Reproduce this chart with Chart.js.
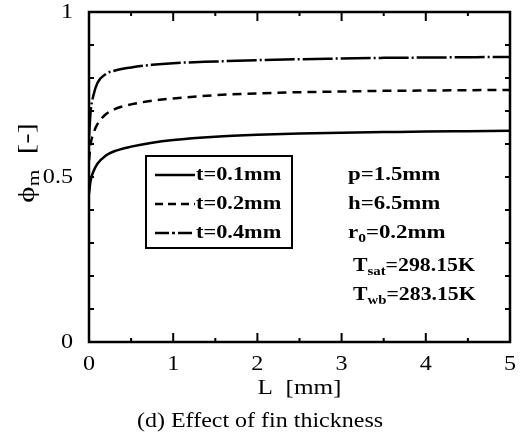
<!DOCTYPE html>
<html>
<head>
<meta charset="utf-8">
<script src="https://cdn.jsdelivr.net/npm/chart.js@4.4.1/dist/chart.umd.min.js"></script>
<style>
  html, body { margin: 0; padding: 0; background: #fff; }
  #wrap { width: 528px; height: 436px; }
</style>
</head>
<body>
<div id="wrap"><canvas id="fin" width="528" height="436"></canvas></div>
<script>
// --- DATA ---
const finLength = [0, 0.02, 0.05, 0.1, 0.2, 0.3, 0.5, 0.75, 1, 1.5, 2, 2.5, 3, 3.5, 4, 4.5, 5];
const phiT01 = [0.45, 0.49, 0.515, 0.54, 0.565, 0.578, 0.592, 0.604, 0.612, 0.622, 0.628, 0.632, 0.634, 0.636, 0.638, 0.639, 0.64];
const phiT02 = [0.55, 0.60, 0.63, 0.66, 0.69, 0.705, 0.72, 0.731, 0.738, 0.748, 0.753, 0.757, 0.759, 0.761, 0.762, 0.763, 0.764];
const phiT04 = [0.62, 0.70, 0.745, 0.785, 0.812, 0.822, 0.832, 0.84, 0.845, 0.85, 0.854, 0.857, 0.859, 0.861, 0.862, 0.863, 0.864];
const seriesLabels = ['t=0.1mm', 't=0.2mm', 't=0.4mm'];
const xTickLabels = ['0', '1', '2', '3', '4', '5'];
const yTickLabels = ['0', '0.5', '1'];
const xMinorTicks = [0.5, 1.5, 2.5, 3.5, 4.5];
const yMinorTicks = [0.1, 0.2, 0.3, 0.4, 0.5, 0.6, 0.7, 0.8, 0.9];

const SERIF = '"Liberation Serif", "Times New Roman", serif';
const INK = '#000';

const toPoints = (ys) => finLength.map((x, i) => ({ x, y: ys[i] }));

// draw text stretched horizontally like the scanned figure
const stretchText = (ctx, text, x, y, size, sx, align, weight = 'normal') => {
    ctx.save();
    ctx.font = `${weight} ${size}px ${SERIF}`;
    const w = ctx.measureText(text).width * sx;
    let x0 = x;
    if (align === 'center') x0 = x - w / 2;
    else if (align === 'right') x0 = x - w;
    ctx.translate(x0, y);
    ctx.scale(sx, 1);
    ctx.textAlign = 'left';
    ctx.textBaseline = 'middle';
    ctx.fillStyle = INK;
    ctx.fillText(text, 0, 0);
    ctx.restore();
    return w;
};

// text runs with subscripts: parts = [[text, isSub], ...]
const richText = (ctx, parts, x, y, size, sx, weight = 'normal') => {
    let cx = x;
    parts.forEach(([t, sub]) => {
        const s = sub ? size * 0.68 : size;
        const dy = sub ? size * 0.3 : 0;
        cx += stretchText(ctx, t, cx, y + dy, s, sx, 'left', weight);
    });
    return cx - x;
};

const framePlugin = {
    id: 'frame',
    afterDatasetsDraw(chart) {
        const { ctx, chartArea: a, scales: { x, y } } = chart;
        ctx.save();
        ctx.strokeStyle = INK;

        // ticks, inward on all four sides
        ctx.lineWidth = 2;
        ctx.beginPath();
        xTickLabels.forEach(v => {
            const px = x.getPixelForValue(Number(v));
            ctx.moveTo(px, a.bottom); ctx.lineTo(px, a.bottom - 9);
            ctx.moveTo(px, a.top); ctx.lineTo(px, a.top + 9);
        });
        xMinorTicks.forEach(v => {
            const px = x.getPixelForValue(v);
            ctx.moveTo(px, a.bottom); ctx.lineTo(px, a.bottom - 4);
            ctx.moveTo(px, a.top); ctx.lineTo(px, a.top + 4);
        });
        yMinorTicks.forEach(v => {
            const py = y.getPixelForValue(v);
            ctx.moveTo(a.left, py); ctx.lineTo(a.left + 5, py);
            ctx.moveTo(a.right, py); ctx.lineTo(a.right - 5, py);
        });
        ctx.stroke();

        // frame
        ctx.lineWidth = 2.5;
        ctx.strokeRect(a.left, a.top, a.right - a.left, a.bottom - a.top);

        // tick labels
        xTickLabels.forEach(v => {
            stretchText(ctx, v, x.getPixelForValue(Number(v)), a.bottom + 22, 21, 1.15, 'center');
        });
        yTickLabels.forEach(v => {
            stretchText(ctx, v, a.left - 16, y.getPixelForValue(Number(v)), 21, 1.15, 'right');
        });

        // axis titles
        stretchText(ctx, 'L  [mm]', (a.left + a.right) / 2, 388, 21, 1.2, 'center');
        ctx.save();
        ctx.translate(28, 163);
        ctx.rotate(-Math.PI / 2);
        ctx.font = `24px ${SERIF}`;
        const w1 = ctx.measureText('\u03d5').width * 1.3;
        ctx.font = `16px ${SERIF}`;
        const w2 = ctx.measureText('m').width * 1.3;
        ctx.font = `24px ${SERIF}`;
        const w3 = ctx.measureText('  [-]').width * 1.3;
        richText(ctx, [['\u03d5', false], ['m', true], ['  [-]', false]], -(w1 + w2 + w3) / 2, 0, 24, 1.3);
        ctx.restore();

        // caption
        stretchText(ctx, '(d) Effect of fin thickness', 260, 422, 20, 1.2, 'center');

        // legend box, built from the datasets
        const lx = 146, ly = 156, lw = 146, lh = 92;
        ctx.lineWidth = 2;
        ctx.strokeRect(lx, ly, lw, lh);
        chart.data.datasets.forEach((ds, i) => {
            const ry = 175 + i * 29;
            ctx.save();
            ctx.lineWidth = ds.borderWidth;
            ctx.strokeStyle = INK;
            ctx.setLineDash(ds.legendDash);
            ctx.beginPath();
            ctx.moveTo(155, ry); ctx.lineTo(195, ry);
            ctx.stroke();
            ctx.restore();
            stretchText(ctx, ds.label, 196, ry, 18, 1.24, 'left', 'bold');
        });

        // condition notes
        richText(ctx, [['p=1.5mm', false]], 348, 175, 18, 1.27, 'bold');
        richText(ctx, [['h=6.5mm', false]], 348, 204, 18, 1.27, 'bold');
        richText(ctx, [['r', false], ['0', true], ['=0.2mm', false]], 348, 233, 18, 1.27, 'bold');
        richText(ctx, [['T', false], ['sat', true], ['=298.15K', false]], 353, 266, 18, 1.21, 'bold');
        richText(ctx, [['T', false], ['wb', true], ['=283.15K', false]], 353, 295, 18, 1.21, 'bold');

        ctx.restore();
    }
};

new Chart(document.getElementById('fin'), {
    type: 'line',
    data: {
        datasets: [
            { label: seriesLabels[0], data: toPoints(phiT01), borderDash: [], legendDash: [] },
            { label: seriesLabels[1], data: toPoints(phiT02), borderDash: [9, 6], legendDash: [8, 5] },
            { label: seriesLabels[2], data: toPoints(phiT04), borderDash: [30, 3, 2, 3], legendDash: [14, 3, 3, 3] }
        ].map(ds => ({
            ...ds,
            borderColor: INK,
            borderWidth: 2.5,
            pointRadius: 0,
            fill: false,
            cubicInterpolationMode: 'monotone'
        }))
    },
    plugins: [framePlugin],
    options: {
        responsive: false,
        animation: false,
        devicePixelRatio: 1,
        layout: { padding: { left: 89, right: 18, top: 12, bottom: 94 } },
        scales: {
            x: { type: 'linear', min: 0, max: 5, display: false },
            y: { type: 'linear', min: 0, max: 1, display: false }
        },
        plugins: { legend: { display: false }, tooltip: { enabled: false } }
    }
});
</script>
</body>
</html>
